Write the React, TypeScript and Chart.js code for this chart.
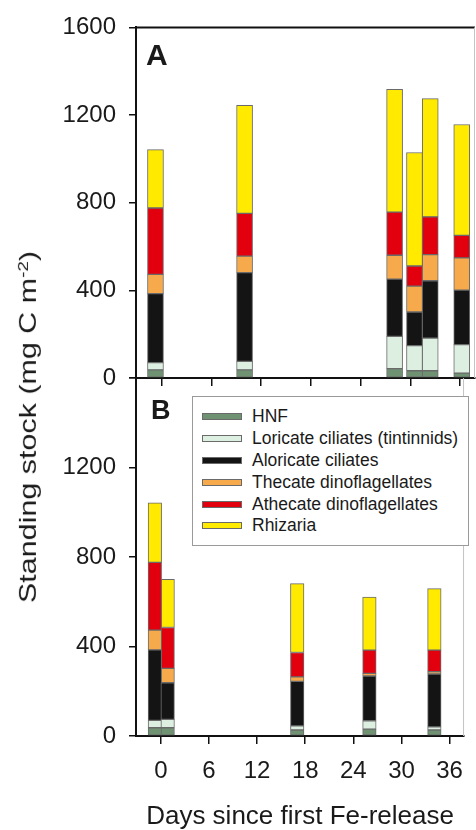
import React, { useEffect, useRef } from 'react';
import { Chart, registerables } from 'chart.js';

Chart.register(...registerables);

// ---------- data ----------
const seriesNames = [
  'HNF',
  'Loricate ciliates (tintinnids)',
  'Aloricate ciliates',
  'Thecate dinoflagellates',
  'Athecate dinoflagellates',
  'Rhizaria',
];
const seriesColors = ['#6f9273', '#dcefe1', '#141414', '#f6aa4c', '#e2000f', '#ffea00'];

const xTicks = [0, 6, 12, 18, 24, 30, 36];
const yTicks = [0, 400, 800, 1200, 1600];

// Panel A
const daysA = [-0.75, 10, 28.1, 30.5, 32.4, 36.2];
const hnfA = [37, 37, 43, 33, 33, 22];
const loricateA = [33, 39, 147, 115, 149, 130];
const aloricateA = [315, 405, 261, 153, 262, 249];
const thecateA = [88, 75, 109, 118, 119, 147];
const athecateA = [303, 195, 197, 92, 172, 103];
const rhizariaA = [266, 493, 560, 518, 540, 506];

// Panel B
const daysB = [-0.75, 0.85, 17, 26, 34.1];
const hnfB = [37, 37, 27, 31, 27];
const loricateB = [33, 37, 18, 37, 14];
const aloricateB = [315, 164, 199, 200, 236];
const thecateB = [88, 64, 20, 12, 10];
const athecateB = [303, 183, 109, 104, 97];
const rhizariaB = [266, 215, 308, 237, 275];

const seriesA = [hnfA, loricateA, aloricateA, thecateA, athecateA, rhizariaA];
const seriesB = [hnfB, loricateB, aloricateB, thecateB, athecateB, rhizariaB];

const FONT = "'Liberation Sans', Arial, sans-serif";
const W = 476;
const H = 830;

const framePlugin = {
  id: 'frame',
  afterDraw(chart: any, _args: any, opts: any) {
    const { ctx, chartArea } = chart;
    const { left, top, right, bottom } = chartArea;
    ctx.save();
    if (opts.top) {
      ctx.strokeStyle = '#111';
      ctx.lineWidth = 2;
      ctx.beginPath();
      ctx.moveTo(left - 1, top);
      ctx.lineTo(right, top);
      ctx.stroke();
    }
    ctx.strokeStyle = '#c4c4c4';
    ctx.lineWidth = 1;
    ctx.beginPath();
    ctx.moveTo(right - 0.5, top);
    ctx.lineTo(right - 0.5, bottom);
    ctx.stroke();
    ctx.restore();
  },
};

function makeConfig(days: number[], series: number[][], panel: 'A' | 'B'): any {
  const isA = panel === 'A';
  return {
    type: 'bar',
    data: {
      datasets: series.map((vals, si) => ({
        label: seriesNames[si],
        data: days.map((d, i) => ({ x: d, y: vals[i] })),
        backgroundColor: seriesColors[si],
        borderColor: '#6a6a6a',
        borderWidth: 1,
        borderSkipped: false,
        barThickness: isA ? 16 : 13.5,
      })),
    },
    plugins: [framePlugin],
    options: {
      responsive: false,
      animation: false,
      events: [],
      layout: {
        padding: isA
          ? { top: 21, right: 1, bottom: H - 386, left: 0 }
          : { top: 378, right: 1, bottom: 0, left: 0 },
      },
      plugins: {
        legend: { display: false },
        tooltip: { enabled: false },
        frame: { top: isA },
      },
      scales: {
        x: {
          type: 'linear',
          min: -3.1,
          max: 37.8,
          stacked: true,
          offset: false,
          afterBuildTicks: (s: any) => {
            s.ticks = xTicks.map((v) => ({ value: v }));
          },
          afterFit: (s: any) => {
            s.height = isA ? 8 : H - 736;
          },
          grid: {
            offset: false,
            drawOnChartArea: false,
            drawTicks: true,
            tickLength: 8,
            color: '#111',
            lineWidth: 1.5,
          },
          border: { display: true, color: '#111', width: 2 },
          ticks: {
            display: !isA,
            padding: 13,
            maxRotation: 0,
            autoSkip: false,
            color: '#1a1a1a',
            font: { family: FONT, size: 24 },
            callback: (v: any) => String(v),
          },
          title: {
            display: !isA,
            text: 'Days since first Fe-release',
            color: '#1a1a1a',
            font: { family: FONT, size: 26, lineHeight: 1 },
            padding: { top: 0, bottom: 0 },
          },
        },
        y: {
          min: 0,
          max: 1600,
          stacked: true,
          afterBuildTicks: (s: any) => {
            s.ticks = yTicks.map((v) => ({ value: v }));
          },
          afterFit: (s: any) => {
            s.width = 136;
          },
          grid: {
            drawOnChartArea: false,
            drawTicks: true,
            tickLength: 7,
            color: '#111',
            lineWidth: 1.5,
          },
          border: { display: true, color: '#111', width: 2 },
          ticks: {
            padding: 13,
            color: '#1a1a1a',
            font: { family: FONT, size: 24 },
            callback: (v: any) => (!isA && v === 1600 ? '' : String(v)),
          },
        },
      },
    },
  };
}

function Panel({ panel }: { panel: 'A' | 'B' }) {
  const ref = useRef<HTMLCanvasElement | null>(null);
  useEffect(() => {
    if (!ref.current) return;
    const chart = new Chart(
      ref.current,
      panel === 'A' ? makeConfig(daysA, seriesA, 'A') : makeConfig(daysB, seriesB, 'B')
    );
    return () => chart.destroy();
  }, [panel]);
  return (
    <canvas
      ref={ref}
      width={W}
      height={H}
      style={{ position: 'absolute', left: 0, top: 0, width: W, height: H }}
    />
  );
}

export default function App() {
  useEffect(() => {
    document.body.style.margin = '0';
  }, []);
  return (
    <div
      style={{
        position: 'relative',
        width: W,
        height: H,
        background: '#fff',
        overflow: 'hidden',
        fontFamily: FONT,
        color: '#1a1a1a',
      }}
    >
      <Panel panel="A" />
      <Panel panel="B" />
      {/* panel letters */}
      <div
        style={{
          position: 'absolute',
          left: 146,
          top: 39.6,
          fontSize: 30,
          fontWeight: 'bold',
          lineHeight: 1,
        }}
      >
        A
      </div>
      <div
        style={{
          position: 'absolute',
          left: 151,
          top: 397,
          fontSize: 27,
          fontWeight: 'bold',
          lineHeight: 1,
        }}
      >
        B
      </div>
      {/* y axis title */}
      <div
        style={{
          position: 'absolute',
          left: 28,
          top: 427,
          whiteSpace: 'nowrap',
          fontSize: 24,
          lineHeight: 1,
          transform: 'translate(-50%, -50%) rotate(-90deg) scaleX(1.27)',
        }}
      >
        Standing stock (mg C m<sup style={{ fontSize: '0.62em', verticalAlign: '0.55em' }}>-2</sup>)
      </div>
      {/* legend */}
      <div
        style={{
          position: 'absolute',
          left: 192,
          top: 396,
          width: 277,
          height: 150,
          boxSizing: 'border-box',
          border: '1px solid #9a9a9a',
          background: '#fff',
          paddingTop: 9,
        }}
      >
        {seriesNames.map((name, i) => (
          <div
            key={name}
            style={{ display: 'flex', alignItems: 'center', height: 21.8 }}
          >
            <div
              style={{
                marginLeft: 9,
                width: 40,
                height: 7,
                boxSizing: 'border-box',
                background: seriesColors[i],
                border: '1px solid #6a6a6a',
              }}
            />
            <div style={{ marginLeft: 10, fontSize: 17.5, whiteSpace: 'nowrap' }}>{name}</div>
          </div>
        ))}
      </div>
    </div>
  );
}
